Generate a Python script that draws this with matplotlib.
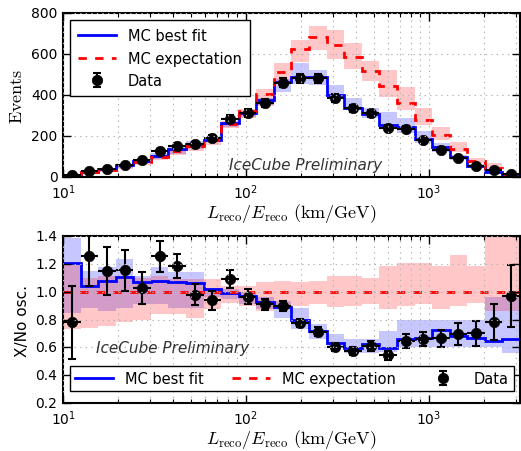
import matplotlib.pyplot as plt
import numpy as np

plt.style.use('classic')
plt.rcParams.update({
    'figure.facecolor': 'white',
    'savefig.facecolor': 'white',
    'font.size': 10,
    'legend.fontsize': 10.5,
    'legend.numpoints': 1,
    'axes.linewidth': 1.5,
    'mathtext.fontset': 'dejavusans',
})

# 26 log bins from 10 to 10^3.5 km/GeV
edges = np.logspace(1, 3.5, 27)

# top panel: event counts
data_events = [10, 29, 40, 61, 83, 128, 153, 159, 190, 284, 313, 361, 460,
               482, 482, 387, 335, 311, 238, 234, 183, 133, 93, 54, 36, 15]
bestfit_events = [11, 26, 39, 57, 80, 104, 135, 163, 183, 262, 312, 375, 463,
                  488, 488, 398, 337, 309, 255, 244, 187, 146, 98, 54, 26, 6]
expect_events = [9, 24, 36, 52, 76, 98, 127, 154, 179, 260, 320, 403, 513,
                 625, 683, 645, 587, 515, 442, 362, 278, 207, 136, 77, 43, 12]

# bottom panel: ratio to no-oscillation expectation
data_ratio = [0.78, 1.255, 1.15, 1.155, 1.03, 1.255, 1.185, 0.98, 0.94, 1.095,
              0.965, 0.91, 0.9, 0.776, 0.714, 0.603, 0.574, 0.61, 0.543, 0.646,
              0.658, 0.666, 0.695, 0.702, 0.783, 0.971]
data_ratio_err = [0.26, 0.21, 0.17, 0.145, 0.115, 0.11, 0.085, 0.075, 0.07, 0.065,
                  0.055, 0.04, 0.035, 0.03, 0.03, 0.03, 0.03, 0.035, 0.035, 0.05,
                  0.05, 0.06, 0.08, 0.09, 0.13, 0.22]
bestfit_ratio = [1.205, 1.043, 1.08, 1.11, 1.068, 1.075, 1.068, 1.063, 1.02, 0.995,
                 0.97, 0.928, 0.89, 0.798, 0.718, 0.635, 0.594, 0.627, 0.598, 0.658,
                 0.67, 0.723, 0.68, 0.666, 0.646, 0.663]
bestfit_lo = [0.85, 0.887, 0.86, 0.887, 0.91, 0.91, 0.887, 0.887, 0.96, 0.947,
              0.91, 0.875, 0.81, 0.73, 0.658, 0.6, 0.56, 0.56, 0.57, 0.6,
              0.6, 0.6, 0.6, 0.6, 0.6, 0.56]
bestfit_hi = [1.39, 1.15, 1.176, 1.24, 1.115, 1.18, 1.14, 1.14, 1.03, 1.02,
              1.0, 0.96, 0.935, 0.887, 0.767, 0.695, 0.658, 0.658, 0.718, 0.8,
              0.8, 0.8, 0.8, 0.8, 0.96, 0.96]
expect_lo = [0.73, 0.74, 0.755, 0.78, 0.8, 0.84, 0.84, 0.815, 0.875, 0.923,
             0.9, 0.863, 0.887, 0.9, 0.91, 0.89, 0.9, 0.91, 0.88, 0.9,
             0.91, 0.875, 0.9, 0.92, 0.863, 0.863]
expect_hi = [1.19, 1.1, 1.115, 1.115, 1.1, 1.115, 1.09, 1.09, 1.09, 1.043,
             1.043, 1.068, 1.08, 1.068, 1.08, 1.115, 1.115, 1.1, 1.183, 1.21,
             1.21, 1.183, 1.265, 1.183, 1.55, 1.55]

centers = np.sqrt(edges[:-1] * edges[1:])
xerr = [centers - edges[:-1], edges[1:] - centers]
expect_events = np.array(expect_events, dtype=float)

fig = plt.figure(figsize=(5.21, 4.52), dpi=100)
ax1 = fig.add_axes([0.121, 0.606, 0.877, 0.363])
ax2 = fig.add_axes([0.121, 0.106, 0.877, 0.369])

band_kw = dict(fill=True, linewidth=0)


def style(ax):
    ax.set_xscale('log')
    ax.set_xlim(edges[0], edges[-1])
    ax.grid(True, which='both', axis='x', color='0.7', linestyle=':', linewidth=0.8)
    ax.grid(True, which='major', axis='y', color='0.7', linestyle=':', linewidth=0.8)
    ax.tick_params(which='major', length=6, width=1)
    ax.tick_params(which='minor', length=3, width=0.8)
    ax.set_xlabel(r'$L_{\rm reco}/E_{\rm reco}\ \rm (km/GeV)$', fontsize=13,
                  math_fontfamily='cm', labelpad=0)


# --- top panel ---
ax1.stairs(expect_events * np.array(bestfit_hi), edges,
           baseline=expect_events * np.array(bestfit_lo), color='blue', alpha=0.22, **band_kw)
ax1.stairs(expect_events * np.array(expect_hi), edges,
           baseline=expect_events * np.array(expect_lo), color='red', alpha=0.22, **band_kw)
ax1.stairs(bestfit_events, edges, color='blue', linewidth=2, baseline=None,
           label='MC best fit')
ax1.stairs(expect_events, edges, color='red', linewidth=2, linestyle='--',
           baseline=None, label='MC expectation')
ax1.errorbar(centers, data_events, xerr=xerr, fmt='none', ecolor='k', elinewidth=1.5,
             capsize=0)
ax1.errorbar(centers, data_events, yerr=np.sqrt(data_events), fmt='o', color='k',
             mec='k', ms=7.5, elinewidth=1.5, capsize=3, capthick=1.5, label='Data')
ax1.set_ylim(0, 800)
ax1.set_yticks([0, 200, 400, 600, 800])
style(ax1)
ax1.set_ylabel(r'$\rm Events$', fontsize=13, math_fontfamily='cm', labelpad=4)
ax1.legend(loc='upper left', fancybox=False, handlelength=2.6, borderpad=0.55,
           labelspacing=0.5, borderaxespad=0.5)
ax1.text(0.53, 0.075, 'IceCube Preliminary', transform=ax1.transAxes, style='italic',
         fontsize=11, color='0.2', ha='center', va='center')

# --- bottom panel ---
ax2.stairs(bestfit_hi, edges, baseline=bestfit_lo, color='blue', alpha=0.22, **band_kw)
ax2.stairs(expect_hi, edges, baseline=expect_lo, color='red', alpha=0.22, **band_kw)
ax2.stairs(bestfit_ratio, edges, color='blue', linewidth=2, baseline=None,
           label='MC best fit')
ax2.stairs(np.ones(len(centers)), edges, color='red', linewidth=2, linestyle='--',
           baseline=None, label='MC expectation')
ax2.errorbar(centers, data_ratio, xerr=xerr, fmt='none', ecolor='k', elinewidth=1.5,
             capsize=0)
ax2.errorbar(centers, data_ratio, yerr=data_ratio_err, fmt='o', color='k', mec='k',
             ms=7.5, elinewidth=1.5, capsize=3, capthick=1.5, label='Data')
ax2.set_ylim(0.2, 1.4)
ax2.set_yticks([0.2, 0.4, 0.6, 0.8, 1.0, 1.2, 1.4])
style(ax2)
ax2.set_ylabel('X/No osc.', fontsize=11, labelpad=4)
ax2.legend(loc='lower left', bbox_to_anchor=(0.015, 0.07, 0.972, 0.12), mode='expand',
           ncol=3, fancybox=False, handlelength=2.6, borderpad=0.35, borderaxespad=0)
ax2.text(0.24, 0.335, 'IceCube Preliminary', transform=ax2.transAxes, style='italic',
         fontsize=11, color='0.2', ha='center', va='center')

fig.savefig('out.png', dpi=100)
